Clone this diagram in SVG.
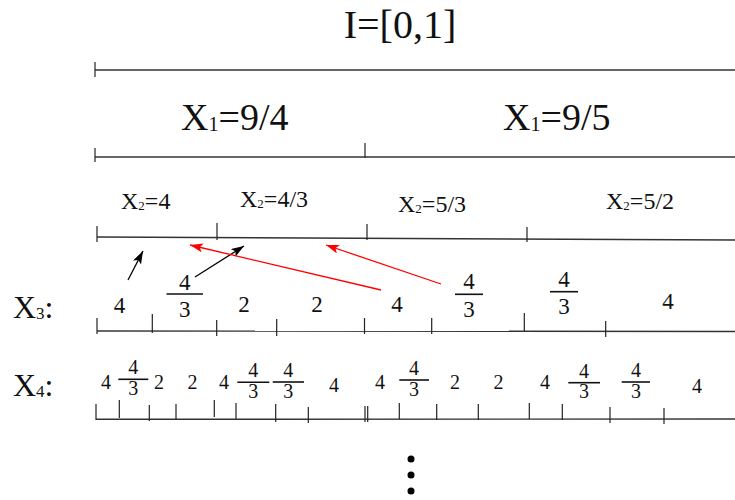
<svg xmlns="http://www.w3.org/2000/svg" width="735" height="500" viewBox="0 0 735 500">
<style>
text{font-family:"Liberation Serif","Times New Roman",serif;fill:#111}
.ln{stroke:#333;stroke-width:1.4;fill:none}
.tk{stroke:#222;stroke-width:1.2}
.bar{stroke:#111;stroke-width:1.6}
.n3{font-size:23px;text-anchor:middle}
.n4{font-size:20px;text-anchor:middle}
.blk{stroke:#000;stroke-width:1.3;fill:none;marker-end:url(#ab)}
.red{stroke:#f00;stroke-width:1.3;fill:none;marker-end:url(#ar)}
</style>
<defs>
<marker id="ab" markerUnits="userSpaceOnUse" markerWidth="14" markerHeight="10" refX="13" refY="4.5" orient="auto"><path d="M0,0 L13,4.5 L0,9 L3,4.5 z" fill="#000"/></marker>
<marker id="ar" markerUnits="userSpaceOnUse" markerWidth="14" markerHeight="10" refX="13" refY="4.5" orient="auto"><path d="M0,0 L13,4.5 L0,9 L3,4.5 z" fill="#f00"/></marker>
</defs>
<rect width="735" height="500" fill="#fff"/>

<g id="level0">
<text x="400" y="38" font-size="40" text-anchor="middle">I=[0,1]</text>
<line class="ln" x1="95" y1="70" x2="735" y2="70"/>
<line class="tk" x1="95" y1="62" x2="95" y2="77"/>
</g>

<g id="level1">
<text x="181" y="130" font-size="38">X<tspan font-size="20" dy="1">1</tspan><tspan dy="-1">=9/4</tspan></text>
<text x="503" y="130" font-size="38">X<tspan font-size="20" dy="1">1</tspan><tspan dy="-1">=9/5</tspan></text>
<line class="ln" x1="95" y1="157" x2="735" y2="157"/>
<line class="tk" x1="95" y1="148" x2="95" y2="162"/>
<line class="tk" x1="365" y1="143" x2="365" y2="158"/>
</g>

<g id="level2">
<text x="121" y="209" font-size="24">X<tspan font-size="13" dy="1">2</tspan><tspan dy="-1">=4</tspan></text>
<text x="240" y="207" font-size="24">X<tspan font-size="13" dy="1">2</tspan><tspan dy="-1">=4/3</tspan></text>
<text x="398" y="212" font-size="24">X<tspan font-size="13" dy="1">2</tspan><tspan dy="-1">=5/3</tspan></text>
<text x="606" y="209" font-size="24">X<tspan font-size="13" dy="1">2</tspan><tspan dy="-1">=5/2</tspan></text>
<line class="ln" x1="97" y1="237" x2="735" y2="240"/>
<line class="tk" x1="97" y1="226" x2="97" y2="242"/>
<line class="tk" x1="217" y1="223" x2="217" y2="240"/>
<line class="tk" x1="367" y1="224" x2="367" y2="240"/>
<line class="tk" x1="527" y1="227" x2="527" y2="242"/>
</g>

<g id="connectors">
<line class="blk" x1="128" y1="280" x2="143" y2="251"/>
<line class="blk" x1="195" y1="277" x2="244" y2="246"/>
<line class="red" x1="381" y1="290" x2="190" y2="245"/>
<line class="red" x1="441" y1="284" x2="326" y2="245"/>
</g>

<g id="level3">
<text x="13" y="318" font-size="32">X<tspan font-size="17" dy="1">3</tspan><tspan dy="-1">:</tspan></text>
<text class="n3" x="119.5" y="312.5">4</text>
<text class="n3" x="184.7" y="290">4</text>
<line class="bar" x1="166.5" y1="294" x2="203" y2="294"/>
<text class="n3" x="184.7" y="316.7">3</text>
<text class="n3" x="244" y="312">2</text>
<text class="n3" x="317" y="312">2</text>
<text class="n3" x="397" y="312.3">4</text>
<text class="n3" x="469" y="289">4</text>
<line class="bar" x1="455" y1="294.3" x2="483" y2="294.3"/>
<text class="n3" x="469" y="316.7">3</text>
<text class="n3" x="564" y="286.7">4</text>
<line class="bar" x1="550" y1="291.7" x2="578" y2="291.7"/>
<text class="n3" x="564" y="314.3">3</text>
<text class="n3" x="668" y="308.5">4</text>
<line class="ln" x1="97" y1="331" x2="735" y2="331.5"/>
<line class="tk" x1="97" y1="318" x2="97" y2="334"/>
<line class="tk" x1="152.3" y1="314" x2="152.3" y2="333"/>
<line class="tk" x1="216.7" y1="320" x2="216.7" y2="336"/>
<line class="tk" x1="276.7" y1="319" x2="276.7" y2="336"/>
<line class="tk" x1="364.5" y1="318" x2="364.5" y2="334"/>
<line class="tk" x1="431.7" y1="318" x2="431.7" y2="334"/>
<line class="tk" x1="524.3" y1="313" x2="524.3" y2="331"/>
<line class="tk" x1="605.7" y1="321" x2="605.7" y2="337"/>
</g>

<g id="level4">
<text x="13" y="396" font-size="32">X<tspan font-size="17" dy="1">4</tspan><tspan dy="-1">:</tspan></text>
<text class="n4" x="106" y="389.3">4</text>
<text class="n4" x="133.3" y="374">4</text>
<line class="bar" x1="118.3" y1="379.3" x2="148.3" y2="379.3"/>
<text class="n4" x="133.3" y="394.5">3</text>
<text class="n4" x="159" y="389">2</text>
<text class="n4" x="192.5" y="389">2</text>
<text class="n4" x="224" y="389">4</text>
<text class="n4" x="253.3" y="377">4</text>
<line class="bar" x1="237.3" y1="382.3" x2="269.3" y2="382.3"/>
<text class="n4" x="253.3" y="397.5">3</text>
<text class="n4" x="288.3" y="377">4</text>
<line class="bar" x1="272.7" y1="382" x2="304" y2="382"/>
<text class="n4" x="288.3" y="397.5">3</text>
<text class="n4" x="334" y="391.7">4</text>
<text class="n4" x="380" y="389.3">4</text>
<text class="n4" x="414" y="375">4</text>
<line class="bar" x1="399.3" y1="380" x2="429" y2="380"/>
<text class="n4" x="414" y="395.5">3</text>
<text class="n4" x="455" y="389.3">2</text>
<text class="n4" x="498.5" y="389.3">2</text>
<text class="n4" x="545" y="389.3">4</text>
<text class="n4" x="584" y="377.5">4</text>
<line class="bar" x1="568.3" y1="382.7" x2="600" y2="382.7"/>
<text class="n4" x="584" y="398">3</text>
<text class="n4" x="636" y="377">4</text>
<line class="bar" x1="621.7" y1="382" x2="650" y2="382"/>
<text class="n4" x="636" y="397.5">3</text>
<text class="n4" x="697" y="392.7">4</text>
<line class="ln" x1="96" y1="419.3" x2="735" y2="419"/>
<g class="tk">
<line x1="96" y1="404" x2="96" y2="420"/>
<line x1="119.3" y1="400" x2="119.3" y2="418"/>
<line x1="149.3" y1="405" x2="149.3" y2="421"/>
<line x1="176" y1="404" x2="176" y2="420"/>
<line x1="214.3" y1="400" x2="214.3" y2="417"/>
<line x1="236" y1="403" x2="236" y2="419"/>
<line x1="275.7" y1="404" x2="275.7" y2="422"/>
<line x1="308.3" y1="407" x2="308.3" y2="423"/>
<line x1="365" y1="406" x2="365" y2="422"/>
<line x1="367.7" y1="406" x2="367.7" y2="422"/>
<line x1="399.3" y1="403" x2="399.3" y2="419"/>
<line x1="436.7" y1="404" x2="436.7" y2="420"/>
<line x1="478.3" y1="404" x2="478.3" y2="420"/>
<line x1="529.3" y1="403" x2="529.3" y2="419"/>
<line x1="562.3" y1="404" x2="562.3" y2="420"/>
<line x1="610" y1="407" x2="610" y2="423"/>
<line x1="664" y1="408" x2="664" y2="424"/>
</g>
</g>

<g id="ellipsis" fill="#000">
<circle cx="411" cy="459" r="3.5"/>
<circle cx="411" cy="475" r="3.5"/>
<circle cx="411" cy="491" r="3.5"/>
</g>
</svg>
